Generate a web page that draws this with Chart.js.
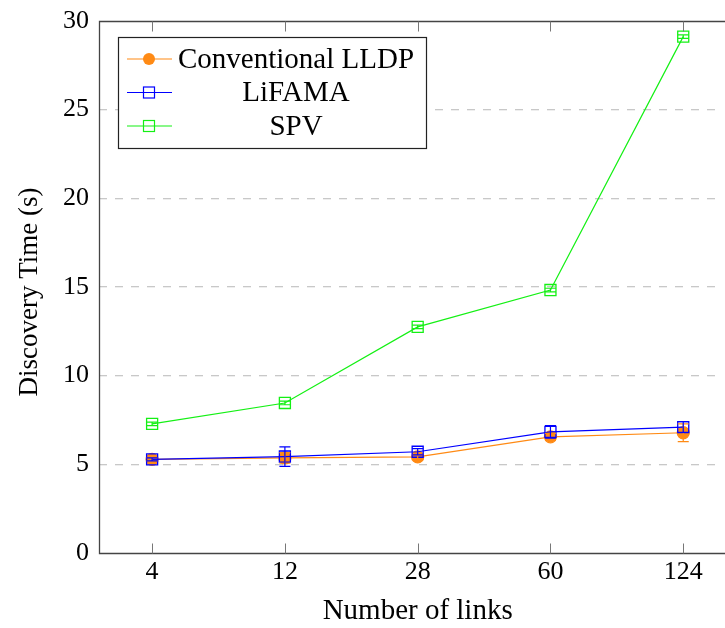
<!DOCTYPE html>
<html>
<head>
<meta charset="utf-8">
<script src="https://cdn.jsdelivr.net/npm/chart.js@4/dist/chart.umd.min.js"></script>
<style>
  html, body { margin: 0; padding: 0; background: #fff; overflow: hidden; }
  #wrap { width: 725px; height: 628px; }
</style>
</head>
<body>
<div id="wrap"><canvas id="discoveryChart" width="725" height="628"></canvas></div>
<script>
// values
const links = ["4", "12", "28", "60", "124"];

const lldp      = [5.28, 5.36, 5.42, 6.55, 6.78];
const lldpErr   = [0.08, 0.30, 0.12, 0.20, 0.50];
const lifama    = [5.28, 5.44, 5.71, 6.83, 7.10];
const lifamaErr = [0.08, 0.55, 0.18, 0.35, 0.30];
const spv       = [7.28, 8.46, 12.75, 14.83, 29.12];
const spvErr    = [0.10, 0.10, 0.10, 0.10, 0.10];

const yTicks = [0, 5, 10, 15, 20, 25, 30];

const xTitle = "Number of links";
const yTitle = "Discovery Time (s)";

const SERIF = "'Liberation Serif', 'DejaVu Serif', serif";

function toXY(arr) {
  return arr.map((v, i) => ({ x: i, y: v }));
}

const series = [
  { label: "Conventional LLDP", data: lldp, err: lldpErr, color: "#ff8a14", style: "circle" },
  { label: "LiFAMA", data: lifama, err: lifamaErr, color: "#0000ff", style: "rect" },
  { label: "SPV", data: spv, err: spvErr, color: "#14f014", style: "rect" }
];

// error bars, drawn through the scales
const errorBars = {
  id: "errorBars",
  afterDatasetsDraw(chart) {
    const { ctx, scales: { x, y } } = chart;
    ctx.save();
    series.forEach(s => {
      ctx.strokeStyle = s.color;
      ctx.lineWidth = 1.2;
      s.data.forEach((v, i) => {
        const px = x.getPixelForValue(i);
        const top = y.getPixelForValue(v + s.err[i]);
        const bot = y.getPixelForValue(v - s.err[i]);
        ctx.beginPath();
        ctx.moveTo(px, top); ctx.lineTo(px, bot);
        ctx.moveTo(px - 5.5, top); ctx.lineTo(px + 5.5, top);
        ctx.moveTo(px - 5.5, bot); ctx.lineTo(px + 5.5, bot);
        ctx.stroke();
      });
    });
    ctx.restore();
  }
};

// axis lines, inner tick marks and axis titles (the right edge of the box is cut off)
const frame = {
  id: "frame",
  afterDraw(chart) {
    const { ctx, chartArea: a, scales: { x } } = chart;
    const L = Math.round(a.left) + 0.5, T = Math.round(a.top) + 0.5, B = Math.round(a.bottom) + 0.5;
    ctx.save();
    ctx.strokeStyle = "#444";
    ctx.lineWidth = 1.3;
    ctx.beginPath();
    ctx.moveTo(chart.width, T); ctx.lineTo(L, T);
    ctx.lineTo(L, B); ctx.lineTo(chart.width, B);
    ctx.stroke();
    ctx.strokeStyle = "#777";
    ctx.lineWidth = 1;
    links.forEach((_, i) => {
      const px = Math.round(x.getPixelForValue(i)) + 0.5;
      ctx.beginPath();
      ctx.moveTo(px, B); ctx.lineTo(px, B - 10);
      ctx.moveTo(px, T); ctx.lineTo(px, T + 10);
      ctx.stroke();
    });

    // axis titles, centred on the full (cropped) axis box
    ctx.fillStyle = "#000";
    ctx.textAlign = "center";
    ctx.textBaseline = "middle";
    ctx.font = "29px " + SERIF;
    const boxRight = x.getPixelForValue(4.4);
    ctx.fillText(xTitle, (a.left + boxRight) / 2, 611);
    ctx.font = "27px " + SERIF;
    ctx.translate(30, 292);
    ctx.rotate(-Math.PI / 2);
    ctx.fillText(yTitle, 0, 0);
    ctx.restore();
  }
};

// boxed legend in the upper left corner
const boxLegend = {
  id: "boxLegend",
  afterDraw(chart) {
    const { ctx, chartArea: a } = chart;
    const bx = Math.round(a.left) + 19, by = Math.round(a.top) + 16, bw = 308, bh = 111;
    ctx.save();
    ctx.fillStyle = "#fff";
    ctx.fillRect(bx, by, bw, bh);
    ctx.strokeStyle = "#222";
    ctx.lineWidth = 1.2;
    ctx.strokeRect(bx + 0.5, by + 0.5, bw, bh);
    ctx.font = "29px " + SERIF;
    ctx.textAlign = "center";
    ctx.textBaseline = "middle";
    series.forEach((s, i) => {
      const cy = by + 22 + i * 33.5;
      const mx = bx + 31;
      ctx.strokeStyle = s.color;
      ctx.lineWidth = 1.2;
      ctx.beginPath();
      ctx.moveTo(bx + 9, cy); ctx.lineTo(bx + 54, cy);
      ctx.stroke();
      if (s.style === "circle") {
        ctx.fillStyle = s.color;
        ctx.beginPath();
        ctx.arc(mx, cy, 6, 0, Math.PI * 2);
        ctx.fill();
      } else {
        ctx.strokeRect(mx - 5.5, cy - 5.5, 11, 11);
      }
      ctx.fillStyle = "#000";
      ctx.fillText(s.label, bx + 178, cy + 1);
    });
    ctx.restore();
  }
};

const datasets = series.map((s, i) => ({
  label: s.label,
  data: toXY(s.data),
  borderColor: s.color,
  borderWidth: 1.2,
  backgroundColor: s.style === "circle" ? s.color : "rgba(255,255,255,0)",
  pointStyle: s.style,
  pointRadius: s.style === "circle" ? 6 : 7.8,
  pointBorderWidth: 1.3,
  pointBorderColor: s.color,
  pointBackgroundColor: s.style === "circle" ? s.color : "rgba(255,255,255,0)",
  tension: 0,
  order: 3 - i,
  clip: false
}));

new Chart(document.getElementById("discoveryChart"), {
  type: "line",
  data: { datasets },
  options: {
    responsive: false,
    animation: false,
    layout: { padding: { left: 0, top: 21, right: 1, bottom: 0 } },
    plugins: {
      legend: { display: false },
      tooltip: { enabled: false }
    },
    scales: {
      x: {
        type: "linear",
        min: -0.4,
        max: 4.246,
        afterBuildTicks: s => { s.ticks = links.map((_, i) => ({ value: i })); },
        afterFit: s => { s.height = 75; s.paddingLeft = 0; s.paddingRight = 0; },
        ticks: {
          color: "#000",
          font: { family: SERIF, size: 26 },
          padding: 4,
          callback: v => links[v]
        },
        grid: { display: false, drawTicks: false },
        border: { display: false }
      },
      y: {
        min: 0,
        max: 30,
        afterBuildTicks: s => { s.ticks = yTicks.map(v => ({ value: v })); },
        afterFit: s => { s.width = 99; s.paddingTop = 0; s.paddingBottom = 0; },
        ticks: {
          color: "#000",
          font: { family: SERIF, size: 26 },
          padding: 10
        },
        grid: {
          drawTicks: false,
          color: c => (c.tick && (c.tick.value === 0 || c.tick.value === 30)) ? "rgba(0,0,0,0)" : "#c8c8c8",
          lineWidth: 1.3
        },
        border: { display: false, dash: [8, 8] }
      }
    }
  },
  plugins: [errorBars, frame, boxLegend]
});
</script>
</body>
</html>
